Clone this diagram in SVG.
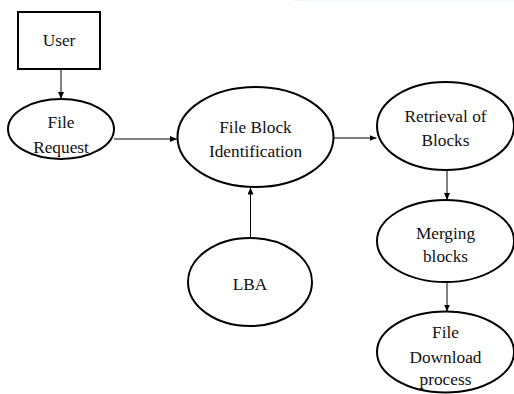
<svg xmlns="http://www.w3.org/2000/svg" width="514" height="394" viewBox="0 0 514 394">
  <style>
    .node { fill: #ffffff; stroke: #000000; stroke-width: 2; }
    .label { font-family: 'Liberation Serif', 'Times New Roman', Times, 'DejaVu Serif', serif; font-size: 17.3px; fill: #111111; text-anchor: middle; }
    .conn { stroke: #000000; stroke-width: 1; fill: none; marker-end: url(#arrow); }
  </style>
  <defs>
    <marker id="arrow" markerUnits="userSpaceOnUse" markerWidth="7" markerHeight="6" refX="7" refY="3" orient="auto">
      <path d="M0,0 L7,3 L0,6 Z" fill="#000000"/>
    </marker>
  </defs>
  <rect width="514" height="394" fill="#ffffff"/>
  <rect x="290" y="0" width="224" height="1" fill="#e6f4f8" opacity="0.5"/>

  <g id="connectors">
    <line class="conn" x1="61" y1="69" x2="61" y2="99"/>
    <line class="conn" x1="114" y1="139" x2="177" y2="139"/>
    <line class="conn" x1="334" y1="138" x2="376.5" y2="138"/>
    <line class="conn" x1="250.5" y1="238" x2="250.5" y2="187.5"/>
    <line class="conn" x1="447" y1="170" x2="447" y2="200"/>
    <line class="conn" x1="447" y1="282" x2="447" y2="311.5"/>
  </g>

  <g id="user">
    <rect class="node" x="18" y="12" width="82" height="57"/>
    <text class="label" x="59" y="46" font-family="Liberation Serif, serif">User</text>
  </g>

  <g id="file-request">
    <ellipse class="node" cx="61" cy="129" rx="53" ry="30"/>
    <text class="label" x="61" y="128">File</text>
    <text class="label" x="61" y="153">Request</text>
  </g>

  <g id="file-block-identification">
    <ellipse class="node" cx="255.5" cy="137" rx="78" ry="50"/>
    <text class="label" x="255.5" y="133">File Block</text>
    <text class="label" x="255.5" y="157">Identification</text>
  </g>

  <g id="lba">
    <ellipse class="node" cx="250" cy="282" rx="62" ry="44"/>
    <text class="label" x="250" y="290">LBA</text>
  </g>

  <g id="retrieval-of-blocks">
    <ellipse class="node" cx="445.5" cy="126" rx="68.5" ry="44"/>
    <text class="label" x="445.5" y="122">Retrieval of</text>
    <text class="label" x="445.5" y="146">Blocks</text>
  </g>

  <g id="merging-blocks">
    <ellipse class="node" cx="445.5" cy="241" rx="68.5" ry="41"/>
    <text class="label" x="445.5" y="239">Merging</text>
    <text class="label" x="445.5" y="262">blocks</text>
  </g>

  <g id="file-download-process">
    <ellipse class="node" cx="445.5" cy="352" rx="68.5" ry="40.5"/>
    <text class="label" x="445.5" y="338">File</text>
    <text class="label" x="445.5" y="363">Download</text>
    <text class="label" x="445.5" y="385">process</text>
  </g>
</svg>
